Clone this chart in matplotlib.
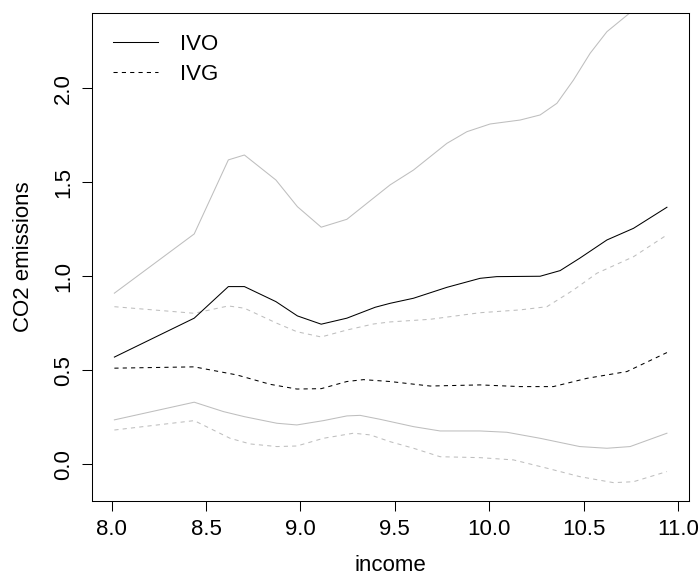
import matplotlib
matplotlib.use('Agg')
import matplotlib.pyplot as plt

plt.rcParams['font.family'] = ['Liberation Sans', 'DejaVu Sans']

# IVO: mean and band
ivo_x = [8.014, 8.437, 8.618, 8.703, 8.87, 8.984, 9.11, 9.246, 9.396, 9.475, 9.599,
         9.776, 9.952, 10.04, 10.27, 10.376, 10.48, 10.624, 10.765, 10.942]
ivo_y = [0.57, 0.777, 0.945, 0.945, 0.865, 0.789, 0.745, 0.777, 0.835, 0.856, 0.883,
         0.941, 0.989, 0.998, 1.0, 1.03, 1.096, 1.193, 1.255, 1.367]

ivo_hi_x = [8.014, 8.437, 8.618, 8.703, 8.87, 8.984, 9.11, 9.246, 9.396, 9.475, 9.599,
            9.776, 9.882, 10.005, 10.164, 10.27, 10.359, 10.447, 10.535, 10.624, 10.747, 10.942]
ivo_hi_y = [0.91, 1.225, 1.619, 1.645, 1.512, 1.37, 1.261, 1.303, 1.423, 1.486, 1.565,
            1.707, 1.769, 1.81, 1.831, 1.858, 1.92, 2.044, 2.186, 2.301, 2.402, 2.56]

ivo_lo_x = [8.014, 8.437, 8.592, 8.703, 8.875, 8.981, 9.122, 9.246, 9.316, 9.422, 9.599,
            9.74, 9.952, 10.094, 10.27, 10.48, 10.624, 10.747, 10.942]
ivo_lo_y = [0.236, 0.33, 0.28, 0.253, 0.218, 0.209, 0.232, 0.257, 0.26, 0.239, 0.2,
            0.177, 0.177, 0.17, 0.138, 0.094, 0.085, 0.094, 0.165]

# IVG: mean and band
ivg_x = [8.014, 8.437, 8.663, 8.84, 8.981, 9.11, 9.246, 9.334, 9.475, 9.687, 9.952,
         10.164, 10.34, 10.518, 10.73, 10.942]
ivg_y = [0.511, 0.518, 0.475, 0.425, 0.40, 0.402, 0.44, 0.45, 0.44, 0.416, 0.422,
         0.413, 0.413, 0.457, 0.493, 0.594]

ivg_hi_x = [8.014, 8.437, 8.618, 8.703, 8.875, 8.981, 9.11, 9.246, 9.387, 9.475, 9.687,
            9.952, 10.164, 10.306, 10.447, 10.571, 10.765, 10.942]
ivg_hi_y = [0.838, 0.803, 0.842, 0.83, 0.75, 0.705, 0.677, 0.714, 0.746, 0.757, 0.771,
            0.806, 0.821, 0.838, 0.927, 1.016, 1.104, 1.22]

ivg_lo_x = [8.014, 8.437, 8.627, 8.733, 8.875, 8.981, 9.122, 9.281, 9.37, 9.475, 9.599,
            9.74, 9.952, 10.129, 10.306, 10.48, 10.659, 10.765, 10.942]
ivg_lo_y = [0.182, 0.232, 0.138, 0.108, 0.094, 0.097, 0.138, 0.165, 0.156, 0.12, 0.085,
            0.04, 0.035, 0.023, -0.021, -0.066, -0.098, -0.093, -0.039]

xticks = [8.0, 8.5, 9.0, 9.5, 10.0, 10.5, 11.0]
yticks = [0.0, 0.5, 1.0, 1.5, 2.0]

fs = 16
dash = (0, (4, 4))
grey = '#bebebe'

fig = plt.figure(figsize=(7.0, 5.78), dpi=100)
ax = fig.add_axes([92.3 / 700, 1 - 500.7 / 578, (689 - 92.3) / 700, (500.7 - 12.7) / 578])

ax.plot(ivo_hi_x, ivo_hi_y, color=grey, lw=0.75)
ax.plot(ivo_lo_x, ivo_lo_y, color=grey, lw=0.75)
ax.plot(ivg_hi_x, ivg_hi_y, color=grey, lw=0.75, ls=dash)
ax.plot(ivg_lo_x, ivg_lo_y, color=grey, lw=0.75, ls=dash)
ax.plot(ivo_x, ivo_y, color='black', lw=0.75, label='IVO')
ax.plot(ivg_x, ivg_y, color='black', lw=0.75, ls=dash, label='IVG')

ax.set_xlim(7.897, 11.059)
ax.set_ylim(-0.194, 2.402)
ax.set_xticks(xticks)
ax.set_xticklabels([f'{v:.1f}' for v in xticks])
ax.set_yticks(yticks)
ax.set_yticklabels([f'{v:.1f}' for v in yticks], rotation=90, va='center')
ax.tick_params(direction='out', length=7.2, width=0.75, labelsize=fs, pad=6)
for s in ax.spines.values():
    s.set_linewidth(0.75)

ax.set_xlabel('income', fontsize=fs, labelpad=11)
ax.set_ylabel('CO2 emissions', fontsize=fs, labelpad=14)

ax.legend(loc='upper left', frameon=False, fontsize=fs, handlelength=2.0,
          handletextpad=1.0, labelspacing=0.4, borderaxespad=0.45, borderpad=0.5)

fig.savefig('out.png', dpi=100)
